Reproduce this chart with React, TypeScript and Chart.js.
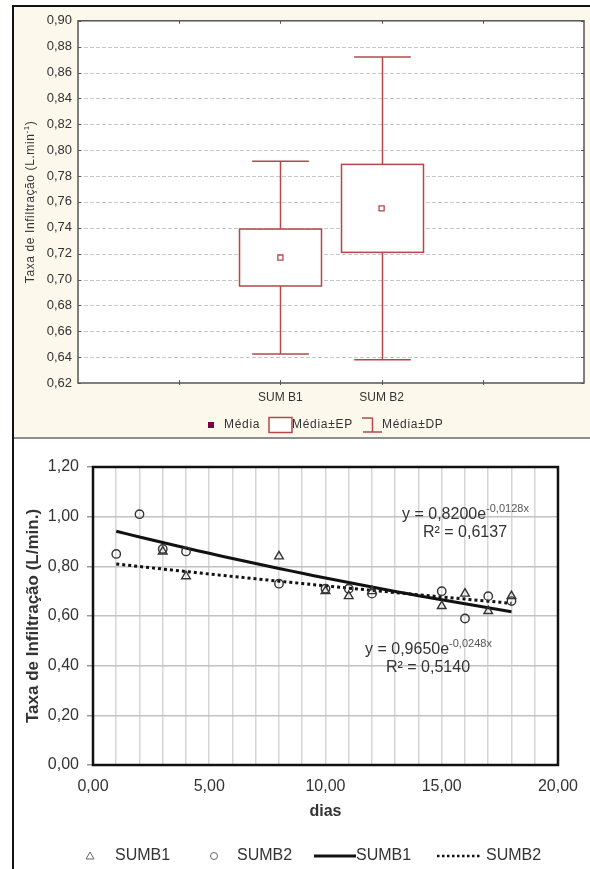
import React, { useEffect, useRef } from 'react';
import { Chart, registerables } from 'chart.js';

Chart.register(...registerables);

// ---- Box plot: mean, ±standard error (box), ±standard deviation (whiskers) ----
const boxCategories = ['SUM B1', 'SUM B2'];
const boxPositions = [2, 3];
const boxMeans = [0.717, 0.755];
const boxSE = [0.022, 0.034];
const boxSD = [0.0745, 0.117];
const boxYRange = [0.62, 0.9];
const boxYStep = 0.02;
const boxXRange = [0, 5];
const boxXTickMarks = [1, 2, 3, 4];
const boxLegend = ['Média', 'Média±EP', 'Média±DP'];

// ---- Infiltration rate vs. days ----
const sumb1Days = [3, 4, 8, 10, 11, 12, 15, 16, 17, 18];
const sumb1Rate = [0.86, 0.76, 0.84, 0.7, 0.68, 0.7, 0.64, 0.69, 0.62, 0.68];
const sumb2Days = [1, 2, 3, 4, 8, 10, 11, 12, 15, 16, 17, 18];
const sumb2Rate = [0.85, 1.01, 0.87, 0.86, 0.73, 0.71, 0.71, 0.69, 0.7, 0.59, 0.68, 0.66];

// Exponential trend lines y = a·e^(b·x): [solid, dotted]
const trendNames = ['SUMB1', 'SUMB2'];
const trendA = [0.965, 0.82];
const trendB = [-0.0248, -0.0128];
const trendR2 = [0.514, 0.6137];
const trendDayRange = [1, 18];

const scatterYRange = [0, 1.2];
const scatterYStep = 0.2;
const scatterXRange = [0, 20];
const scatterXLabelStep = 5;

const FONT = 'Arial, "Liberation Sans", sans-serif';
const BOX_RED = '#b5474b';
const TEXT = '#333333';

const fmt = (v: number, d: number) => v.toFixed(d).replace('.', ',');

function line(ctx: CanvasRenderingContext2D, x1: number, y1: number, x2: number, y2: number) {
  ctx.beginPath();
  ctx.moveTo(x1, y1);
  ctx.lineTo(x2, y2);
  ctx.stroke();
}

// ---------------- Box plot chart ----------------
const boxPlugin = {
  id: 'boxPlot',
  beforeDraw(chart: any) {
    const { ctx, chartArea: a, width, height } = chart;
    ctx.save();
    ctx.fillStyle = '#fdf8ec';
    ctx.fillRect(0, 0, width, height);
    ctx.fillStyle = '#ffffff';
    ctx.fillRect(a.left, a.top, a.right - a.left, a.bottom - a.top);
    ctx.restore();
  },
  beforeDatasetsDraw(chart: any) {
    const { ctx, chartArea: a, scales } = chart;
    const x = scales.x;
    const y = scales.y;
    ctx.save();

    // dashed horizontal grid
    ctx.strokeStyle = '#c8c8c8';
    ctx.lineWidth = 1;
    ctx.setLineDash([4, 2]);
    y.ticks.forEach((t: any) => {
      if (t.value <= boxYRange[0] + 1e-9 || t.value >= boxYRange[1] - 1e-9) return;
      const py = Math.round(y.getPixelForValue(t.value)) + 0.5;
      line(ctx, a.left, py, a.right, py);
    });
    ctx.setLineDash([]);

    // whiskers (±SD) and boxes (±SE)
    boxMeans.forEach((m, i) => {
      const pos = boxPositions[i];
      const cx = Math.round(x.getPixelForValue(pos)) + 0.5;
      const halfBox = x.getPixelForValue(pos + 0.405) - x.getPixelForValue(pos);
      const halfCap = x.getPixelForValue(pos + 0.28) - x.getPixelForValue(pos);
      const wTop = y.getPixelForValue(m + boxSD[i]);
      const wBot = y.getPixelForValue(m - boxSD[i]);
      const bTop = y.getPixelForValue(m + boxSE[i]);
      const bBot = y.getPixelForValue(m - boxSE[i]);
      ctx.strokeStyle = BOX_RED;
      ctx.lineWidth = 1.5;
      line(ctx, cx, wTop, cx, bTop);
      line(ctx, cx, bBot, cx, wBot);
      line(ctx, cx - halfCap, wTop, cx + halfCap, wTop);
      line(ctx, cx - halfCap, wBot, cx + halfCap, wBot);
      ctx.fillStyle = '#ffffff';
      ctx.fillRect(cx - halfBox, bTop, 2 * halfBox, bBot - bTop);
      ctx.strokeRect(cx - halfBox, bTop, 2 * halfBox, bBot - bTop);
    });

    // plot frame and inward tick marks
    ctx.strokeStyle = '#555555';
    ctx.lineWidth = 1.5;
    ctx.strokeRect(a.left, a.top, a.right - a.left, a.bottom - a.top);
    ctx.lineWidth = 1;
    y.ticks.forEach((t: any) => {
      const py = Math.round(y.getPixelForValue(t.value)) + 0.5;
      line(ctx, a.left, py, a.left + 3, py);
      line(ctx, a.right - 3, py, a.right, py);
    });
    boxXTickMarks.forEach((v) => {
      const px = Math.round(x.getPixelForValue(v)) + 0.5;
      line(ctx, px, a.top, px, a.top + 3);
      line(ctx, px, a.bottom - 3, px, a.bottom + 2);
    });
    ctx.restore();
  },
  afterDraw(chart: any) {
    const { ctx, chartArea: a } = chart;
    ctx.save();

    // rotated y-axis title with superscript
    const cy = (a.top + a.bottom) / 2;
    ctx.translate(17, cy);
    ctx.rotate(-Math.PI / 2);
    ctx.fillStyle = TEXT;
    ctx.textBaseline = 'middle';
    ctx.textAlign = 'left';
    (ctx as any).letterSpacing = '0.6px';
    const main = 'Taxa de Infiltração (L.min';
    const sup = '-1';
    const tail = ')';
    ctx.font = `12px ${FONT}`;
    const wMain = ctx.measureText(main).width;
    const wTail = ctx.measureText(tail).width;
    ctx.font = `8px ${FONT}`;
    const wSup = ctx.measureText(sup).width;
    let sx = -(wMain + wSup + wTail) / 2;
    ctx.font = `12px ${FONT}`;
    ctx.fillText(main, sx, 0);
    sx += wMain;
    ctx.font = `8px ${FONT}`;
    ctx.fillText(sup, sx, -4);
    sx += wSup;
    ctx.font = `12px ${FONT}`;
    ctx.fillText(tail, sx, 0);
    ctx.setTransform(1, 0, 0, 1, 0, 0);

    // legend
    const ly = 418;
    ctx.font = `12px ${FONT}`;
    (ctx as any).letterSpacing = '0.7px';
    ctx.textBaseline = 'middle';
    ctx.fillStyle = '#800040';
    ctx.fillRect(194, ly - 3, 6, 6);
    ctx.fillStyle = TEXT;
    ctx.fillText(boxLegend[0], 210, ly);

    ctx.fillStyle = '#ffffff';
    ctx.strokeStyle = BOX_RED;
    ctx.lineWidth = 1.5;
    ctx.fillRect(255, ly - 7.5, 23, 15);
    ctx.strokeRect(255, ly - 7.5, 23, 15);
    ctx.fillStyle = TEXT;
    ctx.fillText(boxLegend[1], 278, ly);

    line(ctx, 348, ly - 7, 358.5, ly - 7);
    line(ctx, 358.5, ly - 7, 358.5, ly + 7);
    line(ctx, 349, ly + 7, 368, ly + 7);
    ctx.fillText(boxLegend[2], 368, ly);
    ctx.restore();
  },
};

function boxConfig(): any {
  return {
    type: 'scatter',
    data: {
      datasets: [
        {
          label: boxLegend[0],
          data: boxPositions.map((p, i) => ({ x: p, y: boxMeans[i] })),
          pointStyle: 'rect',
          pointRadius: 3.6,
          pointBorderWidth: 1.3,
          borderColor: BOX_RED,
          backgroundColor: '#ffffff',
        },
      ],
    },
    options: {
      animation: false,
      responsive: false,
      devicePixelRatio: 1,
      layout: { padding: { left: 0, right: 6, top: 11, bottom: 0 } },
      plugins: { legend: { display: false }, tooltip: { enabled: false } },
      scales: {
        x: {
          type: 'linear',
          min: boxXRange[0],
          max: boxXRange[1],
          afterBuildTicks: (s: any) => {
            s.ticks = boxPositions.map((v) => ({ value: v }));
          },
          ticks: {
            autoSkip: false,
            maxRotation: 0,
            padding: 7,
            color: TEXT,
            font: { family: FONT, size: 12 },
            callback: (v: number) => {
              const i = boxPositions.indexOf(v);
              return i >= 0 ? boxCategories[i] : '';
            },
          },
          grid: { display: false, drawTicks: false },
          border: { display: false },
          afterFit: (s: any) => {
            s.height = 54;
          },
        },
        y: {
          min: boxYRange[0],
          max: boxYRange[1],
          ticks: {
            stepSize: boxYStep,
            padding: 6,
            color: TEXT,
            font: { family: FONT, size: 13 },
            callback: (v: number) => fmt(v, 2),
          },
          grid: { display: false, drawTicks: false },
          border: { display: false },
          afterFit: (s: any) => {
            s.width = 64;
          },
        },
      },
    },
    plugins: [boxPlugin],
  };
}

// ---------------- Scatter with exponential trends ----------------
function trendPoints(k: number) {
  const pts: { x: number; y: number }[] = [];
  for (let d = trendDayRange[0]; d <= trendDayRange[1] + 1e-9; d += 0.5) {
    pts.push({ x: d, y: trendA[k] * Math.exp(trendB[k] * d) });
  }
  return pts;
}

function drawEquation(ctx: CanvasRenderingContext2D, left: number, cy: number, k: number) {
  ctx.fillStyle = TEXT;
  ctx.textBaseline = 'middle';
  ctx.textAlign = 'left';
  ctx.font = `16px ${FONT}`;
  const main = 'y = ' + fmt(trendA[k], 4) + 'e';
  ctx.fillText(main, left, cy);
  const w = ctx.measureText(main).width;
  ctx.font = `11px ${FONT}`;
  ctx.fillStyle = '#555555';
  ctx.fillText(fmt(trendB[k], 4) + 'x', left + w, cy - 6);
  ctx.fillStyle = TEXT;
  ctx.font = `16px ${FONT}`;
  ctx.fillText('R² = ' + fmt(trendR2[k], 4), left + 21, cy + 18);
}

const scatterPlugin = {
  id: 'scatterDecor',
  beforeDraw(chart: any) {
    const { ctx, width, height } = chart;
    ctx.save();
    ctx.fillStyle = '#ffffff';
    ctx.fillRect(0, 0, width, height);
    ctx.restore();
  },
  afterDraw(chart: any) {
    const { ctx, chartArea: a } = chart;
    ctx.save();
    // frame
    ctx.strokeStyle = '#111111';
    ctx.lineWidth = 2.5;
    ctx.strokeRect(a.left, a.top, a.right - a.left, a.bottom - a.top);

    // trend equations
    drawEquation(ctx, a.left + 309, a.top + 48, 1);
    drawEquation(ctx, a.left + 272, a.top + 183, 0);

    // axis titles
    ctx.fillStyle = TEXT;
    ctx.textAlign = 'center';
    ctx.textBaseline = 'middle';
    ctx.font = `bold 16px ${FONT}`;
    ctx.fillText('dias', (a.left + a.right) / 2, 373);
    ctx.save();
    ctx.translate(19, (a.top + a.bottom) / 2);
    ctx.rotate(-Math.PI / 2);
    ctx.font = `bold 17px ${FONT}`;
    ctx.fillText('Taxa de Infiltração (L/min.)', 0, 0);
    ctx.restore();

    // legend
    const ly = 417;
    ctx.font = `16px ${FONT}`;
    ctx.textAlign = 'left';
    ctx.fillStyle = TEXT;
    ctx.strokeStyle = '#666666';
    ctx.lineWidth = 1;
    ctx.beginPath();
    ctx.moveTo(76, ly - 4);
    ctx.lineTo(80, ly + 3);
    ctx.lineTo(72, ly + 3);
    ctx.closePath();
    ctx.stroke();
    ctx.fillText(trendNames[0], 101, ly);
    ctx.beginPath();
    ctx.arc(200, ly, 3.5, 0, Math.PI * 2);
    ctx.stroke();
    ctx.fillText(trendNames[1], 223, ly);

    ctx.strokeStyle = '#111111';
    ctx.lineWidth = 3;
    line(ctx, 300, ly, 342, ly);
    ctx.fillText(trendNames[0], 342, ly);
    ctx.lineWidth = 2.5;
    ctx.setLineDash([2.5, 2.5]);
    line(ctx, 423, ly, 466, ly);
    ctx.setLineDash([]);
    ctx.fillText(trendNames[1], 472, ly);
    ctx.restore();
  },
};

function scatterConfig(): any {
  const markerStyle = {
    pointBorderColor: '#333333',
    pointBackgroundColor: 'rgba(255,255,255,0)',
    pointBorderWidth: 1.4,
    showLine: false,
  };
  return {
    type: 'scatter',
    data: {
      datasets: [
        {
          label: trendNames[0],
          data: sumb1Days.map((d, i) => ({ x: d, y: sumb1Rate[i] })),
          pointStyle: 'triangle',
          pointRadius: 5,
          ...markerStyle,
        },
        {
          label: trendNames[1],
          data: sumb2Days.map((d, i) => ({ x: d, y: sumb2Rate[i] })),
          pointStyle: 'circle',
          pointRadius: 4.2,
          ...markerStyle,
        },
        {
          label: trendNames[0] + ' trend',
          data: trendPoints(0),
          showLine: true,
          pointRadius: 0,
          borderColor: '#111111',
          borderWidth: 3,
          fill: false,
        },
        {
          label: trendNames[1] + ' trend',
          data: trendPoints(1),
          showLine: true,
          pointRadius: 0,
          borderColor: '#111111',
          borderWidth: 3,
          borderDash: [3, 3],
          fill: false,
        },
      ],
    },
    options: {
      animation: false,
      responsive: false,
      devicePixelRatio: 1,
      layout: { padding: { left: 0, right: 31, top: 28, bottom: 0 } },
      plugins: { legend: { display: false }, tooltip: { enabled: false } },
      scales: {
        x: {
          type: 'linear',
          min: scatterXRange[0],
          max: scatterXRange[1],
          ticks: {
            stepSize: 1,
            autoSkip: false,
            maxRotation: 0,
            padding: 12,
            color: TEXT,
            font: { family: FONT, size: 16 },
            callback: (v: number) => (v % scatterXLabelStep === 0 ? fmt(v, 2) : ''),
          },
          grid: { color: '#d6d6d6', lineWidth: 1.5, drawTicks: false },
          border: { display: false },
          afterFit: (s: any) => {
            s.height = 104;
          },
        },
        y: {
          min: scatterYRange[0],
          max: scatterYRange[1],
          ticks: {
            stepSize: scatterYStep,
            padding: 8,
            color: TEXT,
            font: { family: FONT, size: 16 },
            callback: (v: number) => fmt(v, 2),
          },
          grid: { color: '#c2c2c2', lineWidth: 1.5, drawTicks: true, tickLength: 6, tickColor: '#999999' },
          border: { display: false },
          afterFit: (s: any) => {
            s.width = 79;
          },
        },
      },
    },
    plugins: [scatterPlugin],
  };
}

export default function App() {
  const topRef = useRef<HTMLCanvasElement>(null);
  const bottomRef = useRef<HTMLCanvasElement>(null);

  useEffect(() => {
    const top = new Chart(topRef.current as HTMLCanvasElement, boxConfig());
    const bottom = new Chart(bottomRef.current as HTMLCanvasElement, scatterConfig());
    return () => {
      top.destroy();
      bottom.destroy();
    };
  }, []);

  return (
    <div style={{ position: 'absolute', left: 0, top: 0, width: 590, height: 869, background: '#ffffff', overflow: 'hidden' }}>
      <div style={{ position: 'absolute', left: 12, top: 5, width: 2, height: 864, background: '#111111' }} />
      <div style={{ position: 'absolute', left: 12, top: 5, width: 578, height: 2, background: '#111111' }} />
      <canvas
        ref={topRef}
        width={576}
        height={430}
        style={{ position: 'absolute', left: 14, top: 7, width: 576, height: 430 }}
      />
      <div style={{ position: 'absolute', left: 14, top: 437, width: 576, height: 2, background: '#8f8f8f' }} />
      <canvas
        ref={bottomRef}
        width={576}
        height={430}
        style={{ position: 'absolute', left: 14, top: 439, width: 576, height: 430 }}
      />
    </div>
  );
}
